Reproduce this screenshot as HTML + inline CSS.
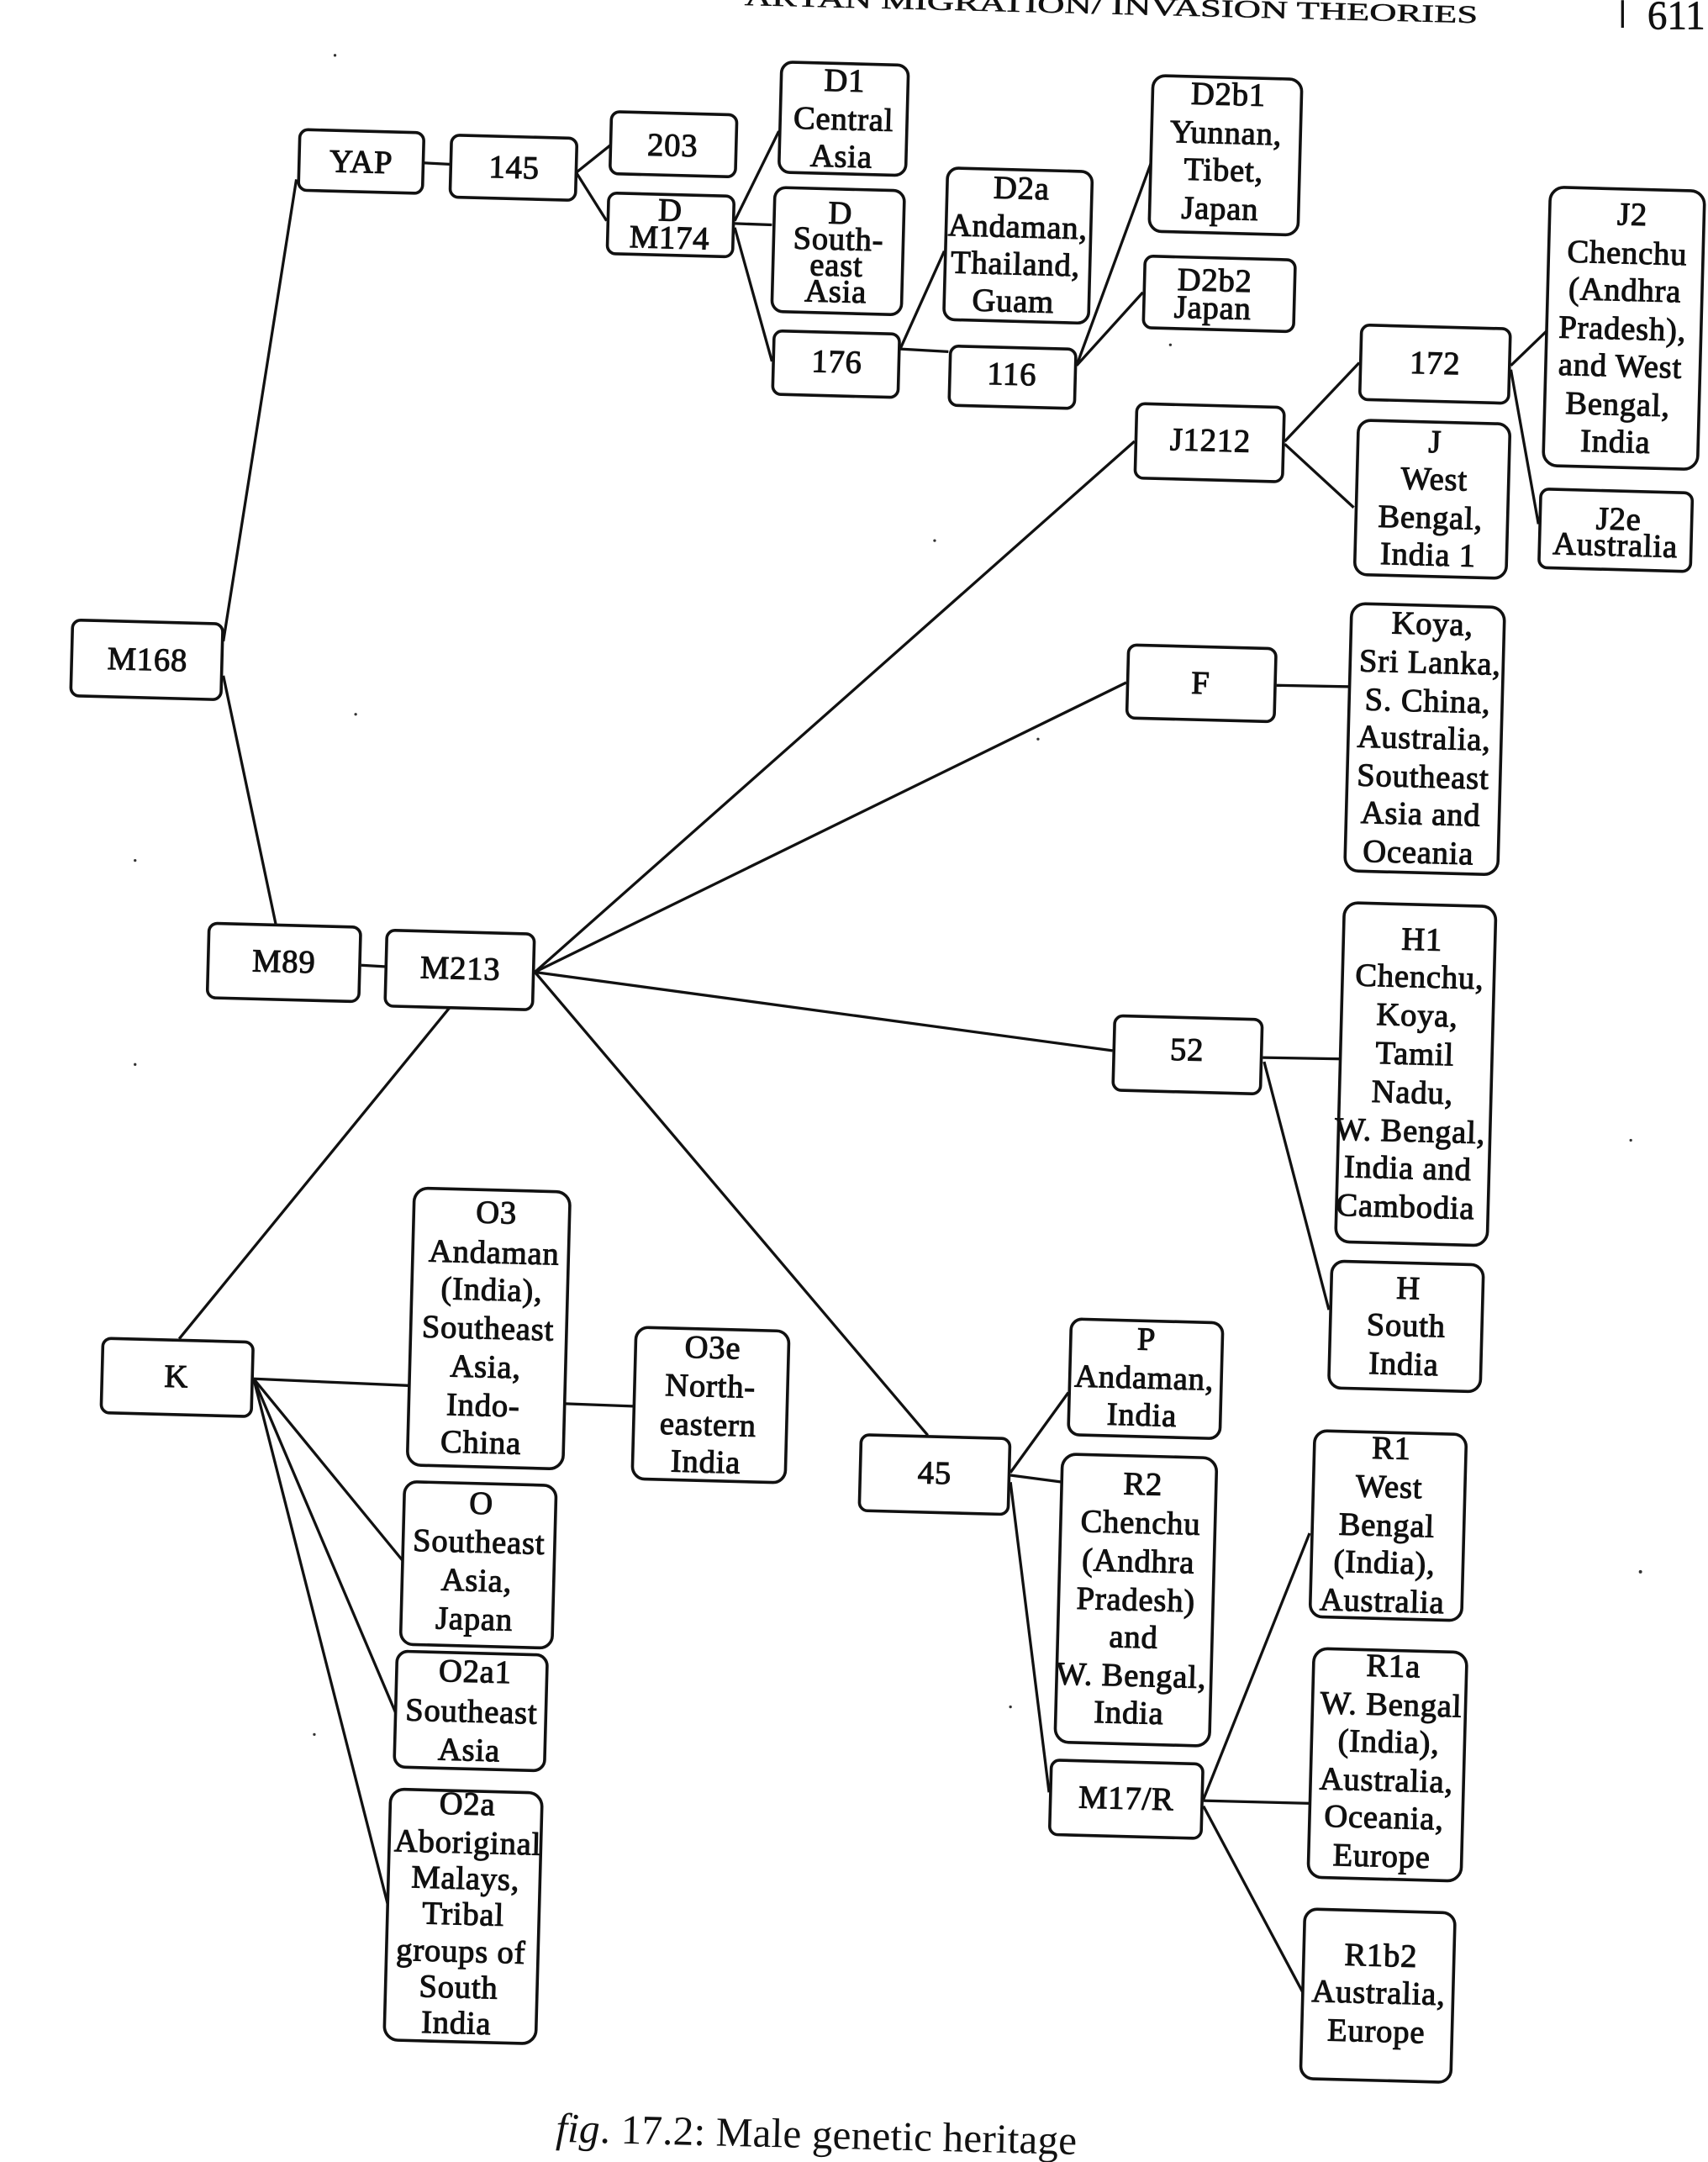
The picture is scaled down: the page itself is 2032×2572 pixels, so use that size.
<!DOCTYPE html>
<html><head><meta charset="utf-8"><title>Male genetic heritage</title>
<style>
html,body{margin:0;padding:0;background:#fff}
svg{display:block}
rect{fill:#fff;stroke:#111;stroke-width:2.2}
line{stroke:#111;stroke-width:2}
text{font-family:"Liberation Serif",serif;font-size:23.5px;fill:#111;stroke:#111;stroke-width:.65;text-anchor:middle;letter-spacing:.5px}
</style></head><body>
<svg xmlns="http://www.w3.org/2000/svg" width="2032" height="2572" viewBox="0 0 1239 1568">
<g>
<line x1="162" y1="465" x2="215" y2="130"/><line x1="162" y1="490" x2="200" y2="670"/>
<line x1="307" y1="118" x2="326" y2="119"/><line x1="418" y1="125" x2="443" y2="105"/><line x1="418" y1="125" x2="440" y2="160"/>
<line x1="533" y1="160" x2="565" y2="95"/><line x1="533" y1="162" x2="560" y2="163"/><line x1="533" y1="165" x2="560" y2="262"/>
<line x1="653" y1="253" x2="685" y2="182"/><line x1="653" y1="253" x2="688" y2="255"/>
<line x1="781" y1="265" x2="835" y2="118"/><line x1="781" y1="265" x2="829" y2="212"/>
<line x1="262" y1="700" x2="279" y2="701"/>
<line x1="388" y1="705" x2="823" y2="320"/><line x1="388" y1="705" x2="817" y2="495"/><line x1="388" y1="705" x2="807" y2="762"/><line x1="388" y1="705" x2="673" y2="1041"/>
<line x1="326" y1="731" x2="130" y2="971"/>
<line x1="932" y1="320" x2="986" y2="263"/><line x1="932" y1="322" x2="982" y2="368"/>
<line x1="1096" y1="265" x2="1124" y2="238"/><line x1="1096" y1="268" x2="1116" y2="380"/>
<line x1="926" y1="497" x2="980" y2="498"/>
<line x1="916" y1="767" x2="973" y2="768"/><line x1="917" y1="770" x2="964" y2="950"/>
<line x1="184" y1="1000" x2="298" y2="1005"/><line x1="184" y1="1000" x2="293" y2="1133"/><line x1="184" y1="1000" x2="289" y2="1247"/><line x1="184" y1="1000" x2="284" y2="1392"/>
<line x1="408" y1="1018" x2="461" y2="1020"/>
<line x1="733" y1="1068" x2="775" y2="1010"/><line x1="733" y1="1070" x2="771" y2="1075"/><line x1="733" y1="1075" x2="761" y2="1300"/>
<line x1="873" y1="1305" x2="950" y2="1112"/><line x1="873" y1="1306" x2="951" y2="1308"/><line x1="873" y1="1310" x2="945" y2="1445"/>
</g>

<g transform="rotate(1.5 107 478)"><rect x="52" y="451" width="109" height="55" rx="6"/><text x="107" y="486">M168</text></g>
<g transform="rotate(1.5 262 117)"><rect x="217" y="95" width="90" height="44" rx="6"/><text x="262" y="125">YAP</text></g>
<g transform="rotate(1.5 372 121)"><rect x="327" y="99" width="91" height="45" rx="6"/><text x="373" y="129">145</text></g>
<g transform="rotate(1.5 488 105)"><rect x="443" y="82" width="91" height="45" rx="6"/><text x="488" y="113">203</text></g>
<g transform="rotate(1.5 486 163)"><rect x="441" y="141" width="91" height="44" rx="6"/><text x="486" y="160">D</text><text x="486" y="180">M174</text></g>
<g transform="rotate(1.5 612 86)"><rect x="566" y="46" width="92" height="80" rx="8"/><text x="612" y="66">D1</text><text x="612" y="94">Central</text><text x="611" y="121">Asia</text></g>
<g transform="rotate(1.5 608 182)"><rect x="561" y="137" width="94" height="90" rx="8"/><text x="609" y="162">D</text><text x="608" y="181">South-</text><text x="607" y="200">east</text><text x="607" y="219">Asia</text></g>
<g transform="rotate(1.5 606 264)"><rect x="561" y="241" width="91" height="46" rx="6"/><text x="607" y="270">176</text></g>
<g transform="rotate(1.5 738 178)"><rect x="686" y="123" width="105" height="110" rx="8"/><text x="740" y="144">D2a</text><text x="738" y="172">Andaman,</text><text x="737" y="199">Thailand,</text><text x="736" y="226">Guam</text></g>
<g transform="rotate(1.5 734 273)"><rect x="689" y="252" width="91" height="43" rx="6"/><text x="734" y="279">116</text></g>
<g transform="rotate(1.5 889 112)"><rect x="835" y="56" width="108" height="113" rx="9"/><text x="890" y="76">D2b1</text><text x="889" y="104">Yunnan,</text><text x="888" y="131">Tibet,</text><text x="886" y="159">Japan</text></g>
<g transform="rotate(1.5 884 213)"><rect x="830" y="187" width="109" height="52" rx="6"/><text x="881" y="211">D2b2</text><text x="880" y="231">Japan</text></g>
<g transform="rotate(1.5 1041 264)"><rect x="987" y="237" width="108" height="54" rx="6"/><text x="1041" y="271">172</text></g>
<g transform="rotate(1.5 878 321)"><rect x="824" y="294" width="107" height="54" rx="6"/><text x="878" y="327">J1212</text></g>
<g transform="rotate(1.5 1038 362)"><rect x="984" y="306" width="110" height="112" rx="9"/><text x="1040" y="328">J</text><text x="1040" y="355">West</text><text x="1038" y="383">Bengal,</text><text x="1037" y="410">India 1</text></g>
<g transform="rotate(1.5 1178 238)"><rect x="1122" y="137" width="112" height="202" rx="10"/><text x="1182" y="163">J2</text><text x="1179" y="191">Chenchu</text><text x="1178" y="218">(Andhra</text><text x="1177" y="246">Pradesh),</text><text x="1176" y="273">and West</text><text x="1175" y="301">Bengal,</text><text x="1174" y="328">India</text></g>
<g transform="rotate(1.5 1172 385)"><rect x="1117" y="356" width="110" height="57" rx="6"/><text x="1174" y="384">J2e</text><text x="1172" y="403">Australia</text></g>
<g transform="rotate(1.5 871 496)"><rect x="818" y="469" width="107" height="53" rx="6"/><text x="871" y="503">F</text></g>
<g transform="rotate(1.5 1034 536)"><rect x="978" y="439" width="111" height="194" rx="10"/><text x="1037" y="460">Koya,</text><text x="1036" y="488">Sri Lanka,</text><text x="1035" y="516">S. China,</text><text x="1033" y="543">Australia,</text><text x="1033" y="571">Southeast</text><text x="1032" y="598">Asia and</text><text x="1031" y="626">Oceania</text></g>
<g transform="rotate(1.5 861 765)"><rect x="808" y="738" width="107" height="54" rx="6"/><text x="861" y="769">52</text></g>
<g transform="rotate(1.5 1027 779)"><rect x="972" y="656" width="110" height="246" rx="10"/><text x="1029" y="689">H1</text><text x="1028" y="716">Chenchu,</text><text x="1027" y="744">Koya,</text><text x="1026" y="772">Tamil</text><text x="1025" y="800">Nadu,</text><text x="1024" y="828">W. Bengal,</text><text x="1023" y="855">India and</text><text x="1022" y="883">Cambodia</text></g>
<g transform="rotate(1.5 1020 962)"><rect x="965" y="916" width="110" height="92" rx="9"/><text x="1021" y="942">H</text><text x="1020" y="969">South</text><text x="1019" y="997">India</text></g>
<g transform="rotate(1.5 206 698)"><rect x="151" y="671" width="110" height="54" rx="6"/><text x="206" y="705">M89</text></g>
<g transform="rotate(1.5 334 703)"><rect x="280" y="676" width="107" height="55" rx="6"/><text x="334" y="710">M213</text></g>
<g transform="rotate(1.5 128 999)"><rect x="74" y="972" width="109" height="54" rx="6"/><text x="128" y="1006">K</text></g>
<g transform="rotate(1.5 354 963)"><rect x="298" y="863" width="113" height="201" rx="10"/><text x="358" y="887">O3</text><text x="357" y="916">Andaman</text><text x="356" y="943">(India),</text><text x="354" y="971">Southeast</text><text x="353" y="999">Asia,</text><text x="352" y="1027">Indo-</text><text x="351" y="1054">China</text></g>
<g transform="rotate(1.5 515 1019)"><rect x="460" y="964" width="111" height="110" rx="9"/><text x="516" y="985">O3e</text><text x="515" y="1013">North-</text><text x="514" y="1041">eastern</text><text x="513" y="1068">India</text></g>
<g transform="rotate(1.5 347 1135)"><rect x="292" y="1076" width="110" height="118" rx="9"/><text x="348" y="1098">O</text><text x="347" y="1126">Southeast</text><text x="346" y="1154">Asia,</text><text x="345" y="1182">Japan</text></g>
<g transform="rotate(1.5 342 1241)"><rect x="287" y="1199" width="109" height="84" rx="8"/><text x="344" y="1220">O2a1</text><text x="342" y="1249">Southeast</text><text x="341" y="1277">Asia</text></g>
<g transform="rotate(1.5 336 1390)"><rect x="281" y="1299" width="110" height="182" rx="10"/><text x="337" y="1316">O2a</text><text x="338" y="1344">Aboriginal</text><text x="337" y="1370">Malays,</text><text x="336" y="1396">Tribal</text><text x="335" y="1423">groups of</text><text x="334" y="1449">South</text><text x="333" y="1475">India</text></g>
<g transform="rotate(1.5 678 1069)"><rect x="624" y="1042" width="108" height="55" rx="6"/><text x="678" y="1076">45</text></g>
<g transform="rotate(1.5 831 1000)"><rect x="776" y="958" width="110" height="84" rx="8"/><text x="831" y="979">P</text><text x="830" y="1007">Andaman,</text><text x="829" y="1034">India</text></g>
<g transform="rotate(1.5 824 1160)"><rect x="768" y="1056" width="112" height="209" rx="10"/><text x="827" y="1084">R2</text><text x="826" y="1112">Chenchu</text><text x="825" y="1140">(Andhra</text><text x="824" y="1168">Pradesh)</text><text x="823" y="1195">and</text><text x="822" y="1223">W. Bengal,</text><text x="821" y="1250">India</text></g>
<g transform="rotate(1.5 817 1305)"><rect x="762" y="1278" width="110" height="54" rx="6"/><text x="817" y="1312">M17/R</text></g>
<g transform="rotate(1.5 1007 1106)"><rect x="952" y="1039" width="110" height="135" rx="9"/><text x="1008" y="1058">R1</text><text x="1007" y="1086">West</text><text x="1006" y="1114">Bengal</text><text x="1005" y="1141">(India),</text><text x="1004" y="1169">Australia</text></g>
<g transform="rotate(1.5 1007 1280)"><rect x="951" y="1197" width="111" height="166" rx="10"/><text x="1009" y="1216">R1a</text><text x="1008" y="1244">W. Bengal</text><text x="1007" y="1271">(India),</text><text x="1006" y="1299">Australia,</text><text x="1005" y="1326">Oceania,</text><text x="1004" y="1354">Europe</text></g>
<g transform="rotate(1.5 1000 1447)"><rect x="945" y="1386" width="109" height="123" rx="9"/><text x="1001" y="1426">R1b2</text><text x="1000" y="1453">Australia,</text><text x="999" y="1481">Europe</text></g>

<text x="806" y="10" textLength="532" lengthAdjust="spacingAndGlyphs" transform="rotate(1.4 806 10)" style="font-size:18px;stroke-width:.3;letter-spacing:0">ARYAN MIGRATION/ INVASION THEORIES</text>
<line x1="1177" y1="0" x2="1177" y2="20"/>
<text x="1216" y="21" textLength="42" lengthAdjust="spacingAndGlyphs" style="font-size:30px;stroke-width:.4;letter-spacing:0">611</text>
<text x="592" y="1558" textLength="378" lengthAdjust="spacing" transform="rotate(1.4 592 1558)" style="font-size:30px;stroke-width:0;letter-spacing:0"><tspan font-style="italic">fig</tspan>. 17.2: Male genetic heritage</text>

<g fill="#333">
<circle cx="243" cy="40" r="1"/><circle cx="98" cy="624" r="1"/><circle cx="98" cy="772" r="1"/><circle cx="1190" cy="1140" r="1.2"/><circle cx="1183" cy="827" r="1"/><circle cx="849" cy="250" r="1"/><circle cx="678" cy="392" r="1"/><circle cx="753" cy="536" r="1"/><circle cx="258" cy="518" r="1"/><circle cx="228" cy="1258" r="1"/><circle cx="733" cy="1238" r="1"/>
</g>
</svg>
</body></html>
